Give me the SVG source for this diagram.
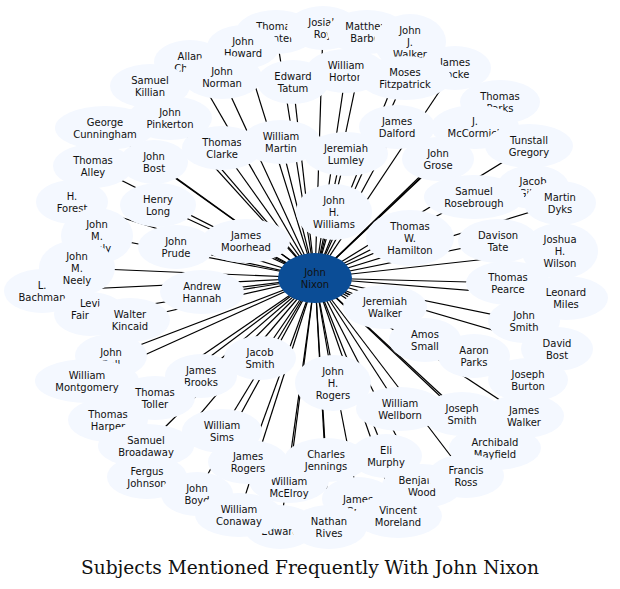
<svg xmlns="http://www.w3.org/2000/svg" width="620" height="589" viewBox="0 0 620 589">
<style>
.n ellipse{fill:#f4f8ff;stroke:none}
text{font-family:"DejaVu Sans",sans-serif;font-size:10px;fill:#111;text-anchor:middle}
.e line{stroke:#000;stroke-width:1.2}
.t{font-family:"DejaVu Serif",serif;font-size:18.6px}
</style>
<rect width="620" height="589" fill="#fff"/>
<g class="e" id="edges">
<line x1="315" y1="278" x2="276" y2="32"/><line x1="315" y1="278" x2="323" y2="28"/><line x1="315" y1="278" x2="367" y2="32"/><line x1="315" y1="278" x2="410" y2="42"/><line x1="315" y1="278" x2="455" y2="68"/><line x1="315" y1="278" x2="190" y2="62"/><line x1="315" y1="278" x2="243" y2="47"/><line x1="315" y1="278" x2="222" y2="77"/><line x1="315" y1="278" x2="293" y2="82"/><line x1="315" y1="278" x2="346" y2="71"/><line x1="315" y1="278" x2="405" y2="78"/><line x1="315" y1="278" x2="150" y2="86"/><line x1="315" y1="278" x2="170" y2="118"/><line x1="315" y1="278" x2="500" y2="102"/><line x1="315" y1="278" x2="475" y2="127"/><line x1="315" y1="278" x2="397" y2="127"/><line x1="315" y1="278" x2="105" y2="128"/><line x1="315" y1="278" x2="222" y2="148"/><line x1="315" y1="278" x2="281" y2="142"/><line x1="315" y1="278" x2="346" y2="154"/><line x1="315" y1="278" x2="438" y2="159"/><line x1="315" y1="278" x2="529" y2="146"/><line x1="315" y1="278" x2="93" y2="166"/><line x1="315" y1="278" x2="154" y2="162"/><line x1="315" y1="278" x2="474" y2="197"/><line x1="315" y1="278" x2="560" y2="203"/><line x1="315" y1="278" x2="72" y2="202"/><line x1="315" y1="278" x2="158" y2="205"/><line x1="315" y1="278" x2="334" y2="212"/><line x1="315" y1="278" x2="410" y2="238"/><line x1="315" y1="278" x2="246" y2="241"/><line x1="315" y1="278" x2="97" y2="236"/><line x1="315" y1="278" x2="498" y2="241"/><line x1="315" y1="278" x2="560" y2="251"/><line x1="315" y1="278" x2="176" y2="247"/><line x1="315" y1="278" x2="77" y2="268"/><line x1="315" y1="278" x2="42" y2="291"/><line x1="315" y1="278" x2="508" y2="283"/><line x1="315" y1="278" x2="566" y2="298"/><line x1="315" y1="278" x2="202" y2="292"/><line x1="315" y1="278" x2="90" y2="314"/><line x1="315" y1="278" x2="130" y2="320"/><line x1="315" y1="278" x2="385" y2="307"/><line x1="315" y1="278" x2="524" y2="321"/><line x1="315" y1="278" x2="425" y2="340"/><line x1="315" y1="278" x2="557" y2="349"/><line x1="315" y1="278" x2="111" y2="356"/><line x1="315" y1="278" x2="260" y2="358"/><line x1="315" y1="278" x2="474" y2="356"/><line x1="315" y1="278" x2="201" y2="376"/><line x1="315" y1="278" x2="333" y2="383"/><line x1="315" y1="278" x2="87" y2="381"/><line x1="315" y1="278" x2="528" y2="380"/><line x1="315" y1="278" x2="155" y2="398"/><line x1="315" y1="278" x2="400" y2="409"/><line x1="315" y1="278" x2="462" y2="414"/><line x1="315" y1="278" x2="524" y2="416"/><line x1="315" y1="278" x2="108" y2="420"/><line x1="315" y1="278" x2="222" y2="431"/><line x1="315" y1="278" x2="495" y2="448"/><line x1="315" y1="278" x2="146" y2="446"/><line x1="315" y1="278" x2="386" y2="456"/><line x1="315" y1="278" x2="326" y2="460"/><line x1="315" y1="278" x2="248" y2="462"/><line x1="315" y1="278" x2="289" y2="481"/><line x1="315" y1="278" x2="147" y2="477"/><line x1="315" y1="278" x2="466" y2="476"/><line x1="315" y1="278" x2="422" y2="486"/><line x1="315" y1="278" x2="197" y2="494"/><line x1="315" y1="278" x2="358" y2="499"/><line x1="315" y1="278" x2="239" y2="515"/><line x1="315" y1="278" x2="398" y2="516"/><line x1="315" y1="278" x2="329" y2="527"/><line x1="315" y1="278" x2="280" y2="531"/>
</g>
<g class="n" id="n1"><ellipse cx="276" cy="32" rx="40" ry="22"/><text x="276" y="30">Thomas<tspan x="276" dy="12">Gunter</tspan></text></g>
<g class="n" id="n2"><ellipse cx="323" cy="28" rx="36" ry="22"/><text x="323" y="26">Josiah<tspan x="323" dy="12">Roy</tspan></text></g>
<g class="n" id="n3"><ellipse cx="367" cy="32" rx="40" ry="22"/><text x="367" y="30">Matthew<tspan x="367" dy="12">Barber</tspan></text></g>
<g class="n" id="n4"><ellipse cx="410" cy="42" rx="36" ry="28"/><text x="410" y="34">John<tspan x="410" dy="12">J.</tspan><tspan x="410" dy="12">Walker</tspan></text></g>
<g class="n" id="n5"><ellipse cx="455" cy="68" rx="36" ry="22"/><text x="455" y="66">James<tspan x="455" dy="12">Locke</tspan></text></g>
<g class="n" id="n6"><ellipse cx="190" cy="62" rx="36" ry="22"/><text x="190" y="60">Allan<tspan x="190" dy="12">Cheek</tspan></text></g>
<g class="n" id="n7"><ellipse cx="243" cy="47" rx="36" ry="22"/><text x="243" y="45">John<tspan x="243" dy="12">Howard</tspan></text></g>
<g class="n" id="n8"><ellipse cx="222" cy="77" rx="40" ry="22"/><text x="222" y="75">John<tspan x="222" dy="12">Norman</tspan></text></g>
<g class="n" id="n9"><ellipse cx="346" cy="71" rx="40" ry="22"/><text x="346" y="69">William<tspan x="346" dy="12">Horton</tspan></text></g>
<g class="n" id="n10"><ellipse cx="293" cy="82" rx="36" ry="22"/><text x="293" y="80">Edward<tspan x="293" dy="12">Tatum</tspan></text></g>
<g class="n" id="n11"><ellipse cx="405" cy="78" rx="46" ry="22"/><text x="405" y="76">Moses<tspan x="405" dy="12">Fitzpatrick</tspan></text></g>
<g class="n" id="n12"><ellipse cx="150" cy="86" rx="40" ry="22"/><text x="150" y="84">Samuel<tspan x="150" dy="12">Killian</tspan></text></g>
<g class="n" id="n13"><ellipse cx="500" cy="102" rx="40" ry="22"/><text x="500" y="100">Thomas<tspan x="500" dy="12">Parks</tspan></text></g>
<g class="n" id="n14"><ellipse cx="105" cy="128" rx="50" ry="22"/><text x="105" y="126">George<tspan x="105" dy="12">Cunningham</tspan></text></g>
<g class="n" id="n15"><ellipse cx="170" cy="118" rx="42" ry="22"/><text x="170" y="116">John<tspan x="170" dy="12">Pinkerton</tspan></text></g>
<g class="n" id="n16"><ellipse cx="475" cy="127" rx="44" ry="22"/><text x="475" y="125">J.<tspan x="475" dy="12">McCormick</tspan></text></g>
<g class="n" id="n17"><ellipse cx="397" cy="127" rx="38" ry="22"/><text x="397" y="125">James<tspan x="397" dy="12">Dalford</tspan></text></g>
<g class="n" id="n18"><ellipse cx="529" cy="146" rx="44" ry="22"/><text x="529" y="144">Tunstall<tspan x="529" dy="12">Gregory</tspan></text></g>
<g class="n" id="n19"><ellipse cx="222" cy="148" rx="40" ry="22"/><text x="222" y="146">Thomas<tspan x="222" dy="12">Clarke</tspan></text></g>
<g class="n" id="n20"><ellipse cx="281" cy="142" rx="40" ry="22"/><text x="281" y="140">William<tspan x="281" dy="12">Martin</tspan></text></g>
<g class="n" id="n21"><ellipse cx="346" cy="154" rx="42" ry="22"/><text x="346" y="152">Jeremiah<tspan x="346" dy="12">Lumley</tspan></text></g>
<g class="n" id="n22"><ellipse cx="93" cy="166" rx="40" ry="22"/><text x="93" y="164">Thomas<tspan x="93" dy="12">Alley</tspan></text></g>
<g class="n" id="n23"><ellipse cx="154" cy="162" rx="34" ry="22"/><text x="154" y="160">John<tspan x="154" dy="12">Bost</tspan></text></g>
<g class="n" id="n24"><ellipse cx="438" cy="159" rx="36" ry="22"/><text x="438" y="157">John<tspan x="438" dy="12">Grose</tspan></text></g>
<g class="n" id="n25"><ellipse cx="533" cy="187" rx="36" ry="22"/><text x="533" y="185">Jacob<tspan x="533" dy="12">Gibbs</tspan></text></g>
<g class="n" id="n26"><ellipse cx="474" cy="197" rx="50" ry="22"/><text x="474" y="195">Samuel<tspan x="474" dy="12">Rosebrough</tspan></text></g>
<g class="n" id="n27"><ellipse cx="560" cy="203" rx="36" ry="22"/><text x="560" y="201">Martin<tspan x="560" dy="12">Dyks</tspan></text></g>
<g class="n" id="n28"><ellipse cx="72" cy="202" rx="36" ry="22"/><text x="72" y="200">H.<tspan x="72" dy="12">Forest</tspan></text></g>
<g class="n" id="n29"><ellipse cx="158" cy="205" rx="38" ry="22"/><text x="158" y="203">Henry<tspan x="158" dy="12">Long</tspan></text></g>
<g class="n" id="n30"><ellipse cx="97" cy="236" rx="36" ry="28"/><text x="97" y="228">John<tspan x="97" dy="12">M.</tspan><tspan x="97" dy="12">Neely</tspan></text></g>
<g class="n" id="n31"><ellipse cx="334" cy="212" rx="38" ry="28"/><text x="334" y="204">John<tspan x="334" dy="12">H.</tspan><tspan x="334" dy="12">Williams</tspan></text></g>
<g class="n" id="n32"><ellipse cx="498" cy="241" rx="40" ry="22"/><text x="498" y="239">Davison<tspan x="498" dy="12">Tate</tspan></text></g>
<g class="n" id="n33"><ellipse cx="410" cy="238" rx="44" ry="28"/><text x="410" y="230">Thomas<tspan x="410" dy="12">W.</tspan><tspan x="410" dy="12">Hamilton</tspan></text></g>
<g class="n" id="n34"><ellipse cx="246" cy="241" rx="44" ry="22"/><text x="246" y="239">James<tspan x="246" dy="12">Moorhead</tspan></text></g>
<g class="n" id="n35"><ellipse cx="176" cy="247" rx="38" ry="22"/><text x="176" y="245">John<tspan x="176" dy="12">Prude</tspan></text></g>
<g class="n" id="n36"><ellipse cx="560" cy="251" rx="38" ry="28"/><text x="560" y="243">Joshua<tspan x="560" dy="12">H.</tspan><tspan x="560" dy="12">Wilson</tspan></text></g>
<g class="n" id="n37"><ellipse cx="42" cy="291" rx="38" ry="22"/><text x="42" y="289">L.<tspan x="42" dy="12">Bachman</tspan></text></g>
<g class="n" id="n38"><ellipse cx="77" cy="268" rx="38" ry="28"/><text x="77" y="260">John<tspan x="77" dy="12">M.</tspan><tspan x="77" dy="12">Neely</tspan></text></g>
<g class="n" id="n39"><ellipse cx="508" cy="283" rx="42" ry="22"/><text x="508" y="281">Thomas<tspan x="508" dy="12">Pearce</tspan></text></g>
<g class="n" id="n40"><ellipse cx="566" cy="298" rx="42" ry="22"/><text x="566" y="296">Leonard<tspan x="566" dy="12">Miles</tspan></text></g>
<g class="n" id="n41"><ellipse cx="202" cy="292" rx="42" ry="22"/><text x="202" y="290">Andrew<tspan x="202" dy="12">Hannah</tspan></text></g>
<g class="n" id="n42"><ellipse cx="90" cy="314" rx="36" ry="22"/><text x="90" y="307">Levi<tspan x="80" dy="12">Fair</tspan></text></g>
<g class="n" id="n43"><ellipse cx="130" cy="320" rx="40" ry="22"/><text x="130" y="318">Walter<tspan x="130" dy="12">Kincaid</tspan></text></g>
<g class="n" id="n44"><ellipse cx="385" cy="307" rx="42" ry="22"/><text x="385" y="305">Jeremiah<tspan x="385" dy="12">Walker</tspan></text></g>
<g class="n" id="n45"><ellipse cx="524" cy="321" rx="36" ry="22"/><text x="524" y="319">John<tspan x="524" dy="12">Smith</tspan></text></g>
<g class="n" id="n46"><ellipse cx="557" cy="349" rx="36" ry="22"/><text x="557" y="347">David<tspan x="557" dy="12">Bost</tspan></text></g>
<g class="n" id="n47"><ellipse cx="425" cy="340" rx="36" ry="22"/><text x="425" y="338">Amos<tspan x="425" dy="12">Small</tspan></text></g>
<g class="n" id="n48"><ellipse cx="474" cy="356" rx="36" ry="22"/><text x="474" y="354">Aaron<tspan x="474" dy="12">Parks</tspan></text></g>
<g class="n" id="n49"><ellipse cx="111" cy="356" rx="36" ry="22"/><text x="111" y="356">John<tspan x="111" dy="12">Bell</tspan></text></g>
<g class="n" id="n50"><ellipse cx="260" cy="358" rx="36" ry="22"/><text x="260" y="356">Jacob<tspan x="260" dy="12">Smith</tspan></text></g>
<g class="n" id="n51"><ellipse cx="87" cy="381" rx="52" ry="22"/><text x="87" y="379">William<tspan x="87" dy="12">Montgomery</tspan></text></g>
<g class="n" id="n52"><ellipse cx="201" cy="376" rx="36" ry="22"/><text x="201" y="374">James<tspan x="201" dy="12">Brooks</tspan></text></g>
<g class="n" id="n53"><ellipse cx="333" cy="383" rx="38" ry="28"/><text x="333" y="375">John<tspan x="333" dy="12">H.</tspan><tspan x="333" dy="12">Rogers</tspan></text></g>
<g class="n" id="n54"><ellipse cx="528" cy="380" rx="40" ry="22"/><text x="528" y="378">Joseph<tspan x="528" dy="12">Burton</tspan></text></g>
<g class="n" id="n55"><ellipse cx="155" cy="398" rx="40" ry="22"/><text x="155" y="396">Thomas<tspan x="155" dy="12">Toller</tspan></text></g>
<g class="n" id="n56"><ellipse cx="108" cy="420" rx="40" ry="22"/><text x="108" y="418">Thomas<tspan x="108" dy="12">Harper</tspan></text></g>
<g class="n" id="n57"><ellipse cx="462" cy="414" rx="40" ry="22"/><text x="462" y="412">Joseph<tspan x="462" dy="12">Smith</tspan></text></g>
<g class="n" id="n58"><ellipse cx="524" cy="416" rx="40" ry="22"/><text x="524" y="414">James<tspan x="524" dy="12">Walker</tspan></text></g>
<g class="n" id="n59"><ellipse cx="400" cy="409" rx="44" ry="22"/><text x="400" y="407">William<tspan x="400" dy="12">Wellborn</tspan></text></g>
<g class="n" id="n60"><ellipse cx="495" cy="448" rx="46" ry="22"/><text x="495" y="446">Archibald<tspan x="495" dy="12">Mayfield</tspan></text></g>
<g class="n" id="n61"><ellipse cx="147" cy="477" rx="40" ry="22"/><text x="147" y="475">Fergus<tspan x="147" dy="12">Johnson</tspan></text></g>
<g class="n" id="n62"><ellipse cx="146" cy="446" rx="48" ry="22"/><text x="146" y="444">Samuel<tspan x="146" dy="12">Broadaway</tspan></text></g>
<g class="n" id="n63"><ellipse cx="222" cy="431" rx="40" ry="22"/><text x="222" y="429">William<tspan x="222" dy="12">Sims</tspan></text></g>
<g class="n" id="n64"><ellipse cx="289" cy="481" rx="40" ry="22"/><text x="289" y="485">William<tspan x="289" dy="12">McElroy</tspan></text></g>
<g class="n" id="n65"><ellipse cx="248" cy="462" rx="40" ry="22"/><text x="248" y="460">James<tspan x="248" dy="12">Rogers</tspan></text></g>
<g class="n" id="n66"><ellipse cx="326" cy="460" rx="42" ry="22"/><text x="326" y="458">Charles<tspan x="326" dy="12">Jennings</tspan></text></g>
<g class="n" id="n67"><ellipse cx="422" cy="486" rx="40" ry="22"/><text x="422" y="484">Benjamin<tspan x="422" dy="12">Wood</tspan></text></g>
<g class="n" id="n68"><ellipse cx="386" cy="456" rx="36" ry="22"/><text x="386" y="454">Eli<tspan x="386" dy="12">Murphy</tspan></text></g>
<g class="n" id="n69"><ellipse cx="466" cy="476" rx="38" ry="22"/><text x="466" y="474">Francis<tspan x="466" dy="12">Ross</tspan></text></g>
<g class="n" id="n70"><ellipse cx="197" cy="494" rx="36" ry="22"/><text x="197" y="492">John<tspan x="197" dy="12">Boyd</tspan></text></g>
<g class="n" id="n71"><ellipse cx="358" cy="499" rx="36" ry="22"/><text x="358" y="503">James<tspan x="358" dy="12">Gray</tspan></text></g>
<g class="n" id="n72"><ellipse cx="280" cy="527" rx="36" ry="22"/><text x="280" y="535">Edward</text></g>
<g class="n" id="n73"><ellipse cx="239" cy="515" rx="44" ry="22"/><text x="239" y="513">William<tspan x="239" dy="12">Conaway</tspan></text></g>
<g class="n" id="n74"><ellipse cx="398" cy="516" rx="44" ry="22"/><text x="398" y="514">Vincent<tspan x="398" dy="12">Moreland</tspan></text></g>
<g class="n" id="n75"><ellipse cx="329" cy="527" rx="38" ry="22"/><text x="329" y="525">Nathan<tspan x="329" dy="12">Rives</tspan></text></g>
<g id="center"><ellipse cx="315" cy="278" rx="37" ry="25" fill="#0b4d96"/><text x="315" y="276">John<tspan x="315" dy="12">Nixon</tspan></text></g>
<text class="t" x="310" y="574">Subjects Mentioned Frequently With John Nixon</text>
</svg>
